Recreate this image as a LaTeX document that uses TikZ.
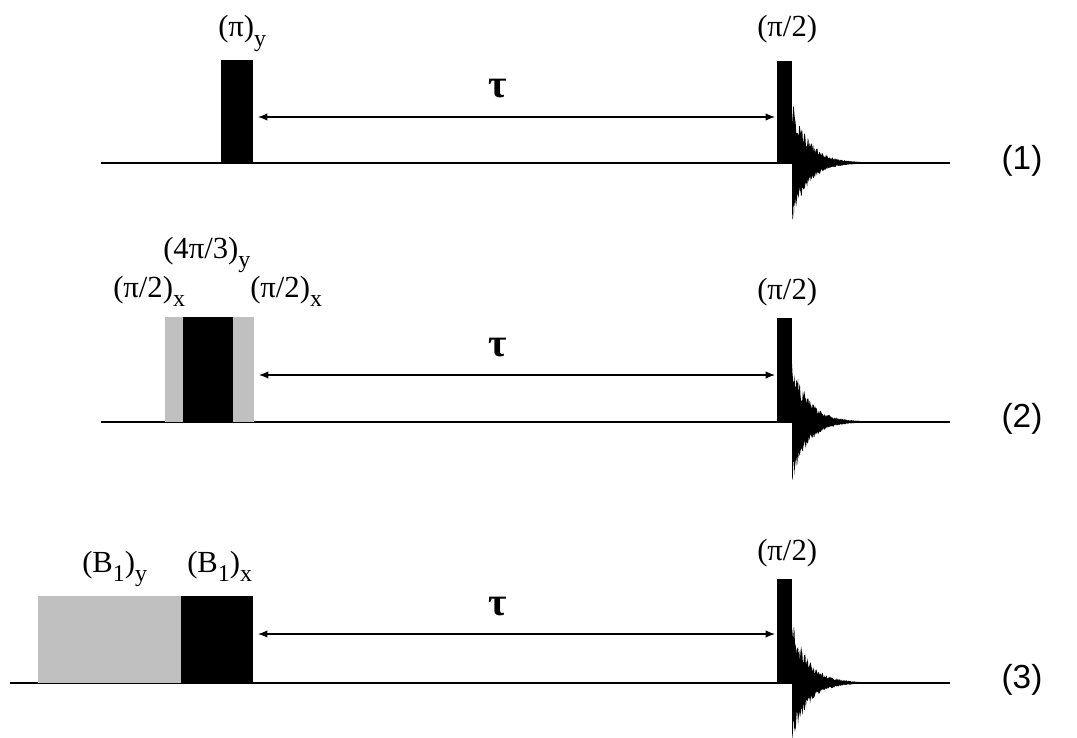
\documentclass[tikz,border=0pt]{standalone}
\usepackage{fontspec}
\setmainfont{Liberation Serif}
\newfontfamily\arialf{Liberation Sans}
\usetikzlibrary{arrows.meta}
\definecolor{pgray}{RGB}{192,192,192}
\newcommand\sbs[1]{\raisebox{-0.3em}{\fontsize{18}{18}\selectfont #1}}
\newcommand\fidplot[2]{%
  \fill plot[domain=0:157,samples=260] ({#1+\x},{#2-64*exp(-\x/17)*(0.55+0.45*rnd)})
    -- plot[domain=157:0,samples=260] ({#1+\x},{#2+62*exp(-\x/16)*(0.6+0.4*rnd)}) -- cycle;}
\begin{document}
\begin{tikzpicture}[x=0.75pt,y=-0.75pt,
  base/.style={line width=1.1pt},
  blk/.style={fill=black,draw=none,inner sep=0pt,outer sep=0pt,anchor=south west},
  gry/.style={fill=pgray,draw=none,inner sep=0pt,outer sep=0pt,anchor=south west},
  dimarrow/.style={line width=0.9pt,{Latex[length=7pt,width=5.5pt]}-{Latex[length=7pt,width=5.5pt]},shorten <=3.75pt,shorten >=1.5pt},
  lbl/.style={anchor=base west,inner sep=0pt,font=\fontsize{23}{27}\selectfont},
  taul/.style={inner sep=0pt,font=\fontsize{30}{34}\selectfont\bfseries},
  num/.style={inner sep=0pt,font=\arialf\fontsize{25}{30}\selectfont}]
\useasboundingbox (0,0) rectangle (1077,738);
\pgfmathsetseed{7}
% ---------- row 1 ----------
\coordinate (s1) at (101,163);
\coordinate (e1) at (950,163);
\draw[base] (s1) -- (e1);
\node[blk,minimum width=24pt,minimum height=77.25pt] (p1) at (221,163) {};
\node[blk,minimum width=11.25pt,minimum height=76.5pt] (q1) at (777,163) {};
\fidplot{792}{163}
\coordinate (a1) at (0,117);
\draw[dimarrow] (p1.east|-a1) -- (q1.west|-a1);
\node[taul] (t1) at (498,89) {τ};
\node[lbl] (l1) at (218,37) {(π)\sbs{y}};
\node[lbl] (m1) at (757,37) {(π/2)};
\node[num] (n1) at (1022,161) {(1)};
% ---------- row 2 ----------
\coordinate (s2) at (101,422);
\coordinate (e2) at (950,422);
\draw[base] (s2) -- (e2);
\node[gry,minimum width=66.75pt,minimum height=78.75pt] (g2) at (165,422) {};
\node[blk,minimum width=37.5pt,minimum height=78.75pt] (b2) at (183,422) {};
\node[blk,minimum width=11.25pt,minimum height=78pt] (q2) at (777,422) {};
\fidplot{792}{422}
\coordinate (a2) at (0,375);
\draw[dimarrow] (g2.east|-a2) -- (q2.west|-a2);
\node[taul] (t2) at (498,348) {τ};
\node[lbl] (l2a) at (163,258) {(4π/3)\sbs{y}};
\node[lbl] (l2b) at (113,297) {(π/2)\sbs{x}};
\node[lbl] (l2c) at (250,297) {(π/2)\sbs{x}};
\node[lbl] (m2) at (757,299) {(π/2)};
\node[num] (n2) at (1022,419) {(2)};
% ---------- row 3 ----------
\coordinate (s3) at (10,683);
\coordinate (e3) at (950,683);
\draw[base] (s3) -- (e3);
\node[gry,minimum width=107.25pt,minimum height=65.25pt] (g3) at (38,683) {};
\node[blk,minimum width=54pt,minimum height=65.25pt] (b3) at (181,683) {};
\node[blk,minimum width=11.25pt,minimum height=78pt] (q3) at (777,683) {};
\fidplot{792}{683}
\coordinate (a3) at (0,634);
\draw[dimarrow] (b3.east|-a3) -- (q3.west|-a3);
\node[taul] (t3) at (498,607) {τ};
\node[lbl] (l3a) at (82,572) {(B\sbs{1})\sbs{y}};
\node[lbl] (l3b) at (187,572) {(B\sbs{1})\sbs{x}};
\node[lbl] (m3) at (757,560) {(π/2)};
\node[num] (n3) at (1022,680) {(3)};
\end{tikzpicture}
\end{document}
